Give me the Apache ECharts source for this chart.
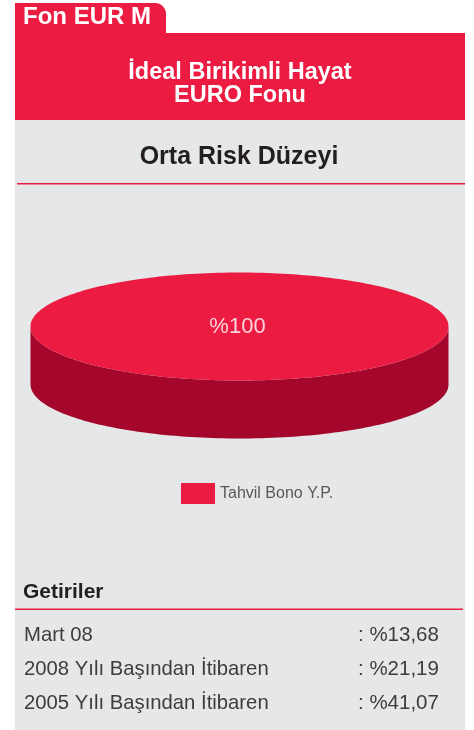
<!DOCTYPE html>
<html>
<head>
<meta charset="utf-8">
<script src="https://cdn.jsdelivr.net/npm/echarts@6/dist/echarts.min.js"></script>
<style>
html,body{margin:0;padding:0;background:#ffffff;}
#chart{width:474px;height:730px;}
</style>
</head>
<body>
<div id="chart"></div>
<script>
// ---- data ----
const tabLabel = 'Fon EUR M';
const titleLines = ['İdeal Birikimli Hayat', 'EURO Fonu'];
const riskLabel = 'Orta Risk Düzeyi';
const sliceNames = ['Tahvil Bono Y.P.'];
const sliceValues = [100];
const returnsTitle = 'Getiriler';
const returnLabels = ['Mart 08', '2008 Yılı Başından İtibaren', '2005 Yılı Başından İtibaren'];
const returnValues = [': %13,68', ': %21,19', ': %41,07'];

// ---- styles / layout ----
const RED = '#ec1b42';
const SIDE = '#a5062b';
const GRAY = '#e6e7e8';
const FONT = '"Liberation Sans", Arial, Helvetica, sans-serif';
const PIE = { cx: 239.5, cy: 326.5, rx: 209, ry: 54, depth: 58 };
const topColors = [RED];
const sideColors = [SIDE];

const chart = echarts.init(document.getElementById('chart'), null, { renderer: 'canvas' });

function ellPt(a, dy) {
  return [PIE.cx + PIE.rx * Math.cos(a), PIE.cy + (dy || 0) + PIE.ry * Math.sin(a)];
}

function renderSlice(i, api) {
  const total = sliceValues.reduce((a, b) => a + b, 0);
  let before = 0;
  for (let j = 0; j < i; j++) before += sliceValues[j];
  const share = api.value(0) / total;
  const a0 = -Math.PI / 2 + before / total * Math.PI * 2;
  const a1 = a0 + share * Math.PI * 2;
  const full = share >= 0.9999;
  const steps = 240;
  const children = [];

  // side walls (front half only: 0..PI in screen coords)
  for (let k = -1; k <= 2; k++) {
    const s = Math.max(a0, 2 * Math.PI * k);
    const e = Math.min(a1, 2 * Math.PI * k + Math.PI);
    if (e > s) {
      const topEdge = [], botEdge = [];
      const n = Math.max(2, Math.ceil(steps * (e - s) / (2 * Math.PI)));
      for (let t = 0; t <= n; t++) {
        const a = s + (e - s) * t / n;
        topEdge.push(ellPt(a, 0));
        botEdge.push(ellPt(a, PIE.depth));
      }
      children.push({
        type: 'polygon', z2: 1,
        shape: { points: topEdge.concat(botEdge.reverse()) },
        style: { fill: sideColors[i % sideColors.length] }
      });
    }
  }

  // top face
  const pts = full ? [] : [[PIE.cx, PIE.cy]];
  for (let t = 0; t <= steps; t++) {
    pts.push(ellPt(a0 + (a1 - a0) * t / steps, 0));
  }
  children.push({
    type: 'polygon', z2: 2,
    shape: { points: pts },
    style: { fill: topColors[i % topColors.length] }
  });

  // label
  const mid = (a0 + a1) / 2;
  const lp = full ? [PIE.cx - 2, PIE.cy] :
    [PIE.cx + 0.6 * PIE.rx * Math.cos(mid), PIE.cy + 0.6 * PIE.ry * Math.sin(mid)];
  children.push({
    type: 'text', z2: 3,
    x: lp[0], y: lp[1],
    style: {
      text: '%' + Math.round(share * 100),
      fill: '#fbd3dc',
      font: '22px ' + FONT,
      align: 'center', verticalAlign: 'middle'
    }
  });
  return { type: 'group', children: children };
}

const graphics = [
  // gray panel
  { type: 'rect', z: 0, shape: { x: 15, y: 118, width: 450, height: 620 }, style: { fill: GRAY } },
  // tab
  { type: 'rect', z: 1, shape: { x: 15, y: 3, width: 151, height: 40, r: [0, 11, 0, 0] }, style: { fill: RED } },
  // header band
  { type: 'rect', z: 1, shape: { x: 15, y: 33, width: 450, height: 87 }, style: { fill: RED } },
  { type: 'text', z: 2, x: 23, y: 17, style: { text: tabLabel, fill: '#ffffff', font: 'bold 24px ' + FONT, align: 'left', verticalAlign: 'middle' } },
  { type: 'text', z: 2, x: 240, y: 72.5, style: { text: titleLines[0], fill: '#ffffff', font: 'bold 23.5px ' + FONT, align: 'center', verticalAlign: 'middle' } },
  { type: 'text', z: 2, x: 240, y: 95.5, style: { text: titleLines[1], fill: '#ffffff', font: 'bold 23.5px ' + FONT, align: 'center', verticalAlign: 'middle' } },
  // risk
  { type: 'text', z: 2, x: 239, y: 157, style: { text: riskLabel, fill: '#231f20', font: 'bold 25px ' + FONT, align: 'center', verticalAlign: 'middle' } },
  { type: 'rect', z: 2, shape: { x: 17, y: 183, width: 448, height: 1.6 }, style: { fill: RED } },
  // returns
  { type: 'text', z: 2, x: 23, y: 592.5, style: { text: returnsTitle, fill: '#231f20', font: 'bold 21px ' + FONT, align: 'left', verticalAlign: 'middle' } },
  { type: 'rect', z: 2, shape: { x: 15, y: 608.5, width: 448, height: 1.6 }, style: { fill: RED } }
];
returnLabels.forEach(function (lbl, k) {
  const y = 635 + k * 34.2;
  graphics.push({ type: 'text', z: 2, x: 24, y: y, style: { text: lbl, fill: '#3d3d3f', font: '20.3px ' + FONT, align: 'left', verticalAlign: 'middle' } });
  graphics.push({ type: 'text', z: 2, x: 358, y: y, style: { text: returnValues[k], fill: '#3d3d3f', font: '20.5px ' + FONT, align: 'left', verticalAlign: 'middle' } });
});

chart.setOption({
  animation: false,
  backgroundColor: '#ffffff',
  graphic: { elements: graphics },
  legend: {
    data: sliceNames,
    left: 181, top: 483,
    padding: 0,
    icon: 'rect',
    itemWidth: 34, itemHeight: 21,
    itemGap: 10,
    textStyle: { color: '#58595b', fontSize: 16, fontFamily: FONT }
  },
  series: sliceNames.map(function (name, i) {
    return {
      type: 'custom',
      name: name,
      coordinateSystem: 'none',
      z: 5,
      itemStyle: { color: topColors[i % topColors.length] },
      data: [[sliceValues[i]]],
      renderItem: function (params, api) {
        return renderSlice(i, api);
      }
    };
  })
});
</script>
</body>
</html>
